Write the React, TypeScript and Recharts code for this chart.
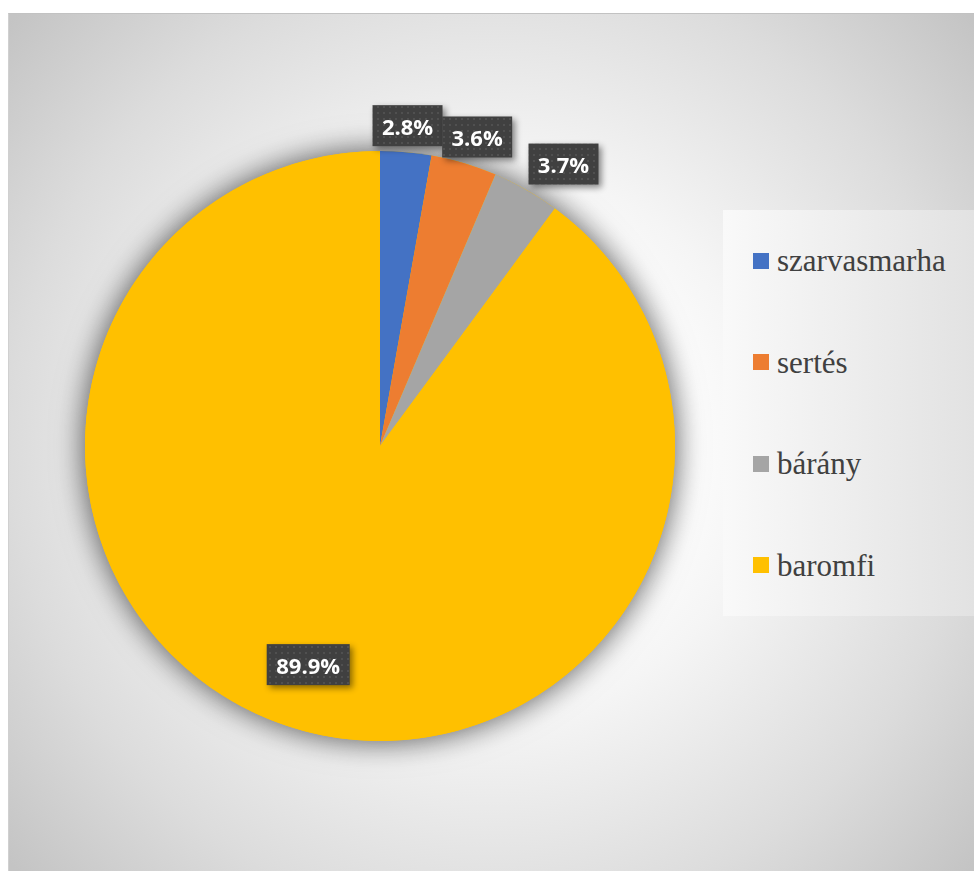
import { PieChart, Pie, Cell, Legend } from "recharts";

// meat consumption shares (%)
const categories = ["szarvasmarha", "sertés", "bárány", "baromfi"];
const shares = [2.8, 3.6, 3.7, 89.9];
const colors = ["#4472C4", "#ED7D31", "#A5A5A5", "#FFC000"];

const data = categories.map((name, i) => ({ name, value: shares[i] }));
// one-slice copy of the whole pie, only used to cast the soft shadow
const shadowData = [{ name: "total", value: shares.reduce((a, b) => a + b, 0) }];

const RAD = Math.PI / 180;
const LABEL_FONT = "bold 22px 'Open Sans'";

let ctx: CanvasRenderingContext2D | null = null;
function textWidth(s: string) {
  if (!ctx) ctx = document.createElement("canvas").getContext("2d");
  if (!ctx) return s.length * 13;
  ctx.font = LABEL_FONT;
  return ctx.measureText(s).width;
}

// excel-ish "best fit" data label: small slices outside, big ones inside
function renderLabel(props: any) {
  const { cx, cy, midAngle, outerRadius, percent, value } = props;
  const text = `${Number(value).toFixed(1)}%`;
  const w = Math.round(textWidth(text) + 19);
  const h = 41;
  const t = (90 - midAngle) * RAD; // clockwise from 12 o'clock
  const s = Math.sin(t);
  const c = Math.cos(t);
  let x: number;
  let y: number;
  if (percent < 0.1) {
    const r = outerRadius + 6;
    const ax = cx + r * s;
    const ay = cy - r * c;
    x = ax + Math.sign(s) * Math.min(1, 4 * s * s) * (w / 2);
    y = ay - Math.max(-1, Math.min(1, c / 0.7)) * (h / 2);
  } else {
    const r = outerRadius * 0.78;
    x = cx + r * s;
    y = cy - r * c;
  }
  return (
    <g style={{ filter: "drop-shadow(3px 3px 3px rgba(0,0,0,0.45))" }}>
      <rect x={x - w / 2} y={y - h / 2} width={w} height={h} fill="url(#lblDots)" />
      <text
        x={x}
        y={y}
        textAnchor="middle"
        dominantBaseline="central"
        fill="#ffffff"
        fontFamily="'Open Sans', sans-serif"
        fontWeight={700}
        fontSize={22}
      >
        {text}
      </text>
    </g>
  );
}

function renderLegend({ payload }: any) {
  const items = (payload || [])
    .filter((e: any) => categories.includes(e.value))
    .sort((a: any, b: any) => categories.indexOf(a.value) - categories.indexOf(b.value));
  return (
    <div
      style={{
        width: 252,
        height: 406,
        background: "linear-gradient(90deg, #f9f9f9, #e2e2e2)",
        display: "flex",
        flexDirection: "column",
      }}
    >
      {items.map((entry: any, i: number) => (
        <div
          key={entry.value}
          style={{ flex: 1, display: "flex", alignItems: "center", paddingLeft: 30 }}
        >
          <span
            style={{
              width: 16,
              height: 16,
              marginRight: 8,
              background: colors[categories.indexOf(entry.value)] ?? entry.color ?? colors[i],
            }}
          />
          <span
            style={{
              fontFamily: "'Liberation Serif', 'Times New Roman', serif",
              fontSize: 31,
              lineHeight: 1,
              color: "#404040",
            }}
          >
            {entry.value}
          </span>
        </div>
      ))}
    </div>
  );
}

export default function App() {
  return (
    <div style={{ width: 974, height: 871, overflow: "hidden", position: "relative" }}>
      <style>{`
        body { margin: 0; }
        .pie-shadow { filter: drop-shadow(0 0 14px rgba(0,0,0,0.35)); }
      `}</style>

      {/* dotted fill for the label boxes */}
      <svg width="0" height="0" style={{ position: "absolute" }}>
        <defs>
          <pattern id="lblDots" width="6" height="6" patternUnits="userSpaceOnUse">
            <rect width="6" height="6" fill="#404040" />
            <circle cx="3" cy="3" r="0.9" fill="#575757" />
          </pattern>
        </defs>
      </svg>

      <div
        style={{
          position: "absolute",
          left: 8,
          top: 13,
          width: 966,
          height: 858,
          borderTop: "1px solid #c2c2c2",
          borderLeft: "1px solid #d0d0d0",
          boxSizing: "border-box",
          background:
            "radial-gradient(circle at 483px 429px, #ffffff 0px, #ffffff 160px, #f5f5f5 275px, #dcdcdc 480px, #c4c4c4 640px)",
        }}
      >
        <PieChart width={966} height={858} margin={{ top: 0, right: 0, bottom: 0, left: 0 }}>
          <Pie
            data={shadowData}
            dataKey="value"
            nameKey="name"
            cx={371}
            cy={432}
            outerRadius={295}
            fill="#FFC000"
            stroke="none"
            className="pie-shadow"
            legendType="none"
            isAnimationActive={false}
          />
          <Pie
            data={data}
            dataKey="value"
            nameKey="name"
            cx={371}
            cy={432}
            outerRadius={295}
            startAngle={90}
            endAngle={-270}
            stroke="none"
            label={renderLabel}
            labelLine={false}
            isAnimationActive={false}
          >
            {data.map((d, i) => (
              <Cell key={d.name} fill={colors[i]} />
            ))}
          </Pie>
          <Legend
            layout="vertical"
            align="right"
            verticalAlign="middle"
            content={renderLegend}
            wrapperStyle={{ left: 714, top: 196, width: 252, height: 406 }}
          />
        </PieChart>
      </div>
    </div>
  );
}
